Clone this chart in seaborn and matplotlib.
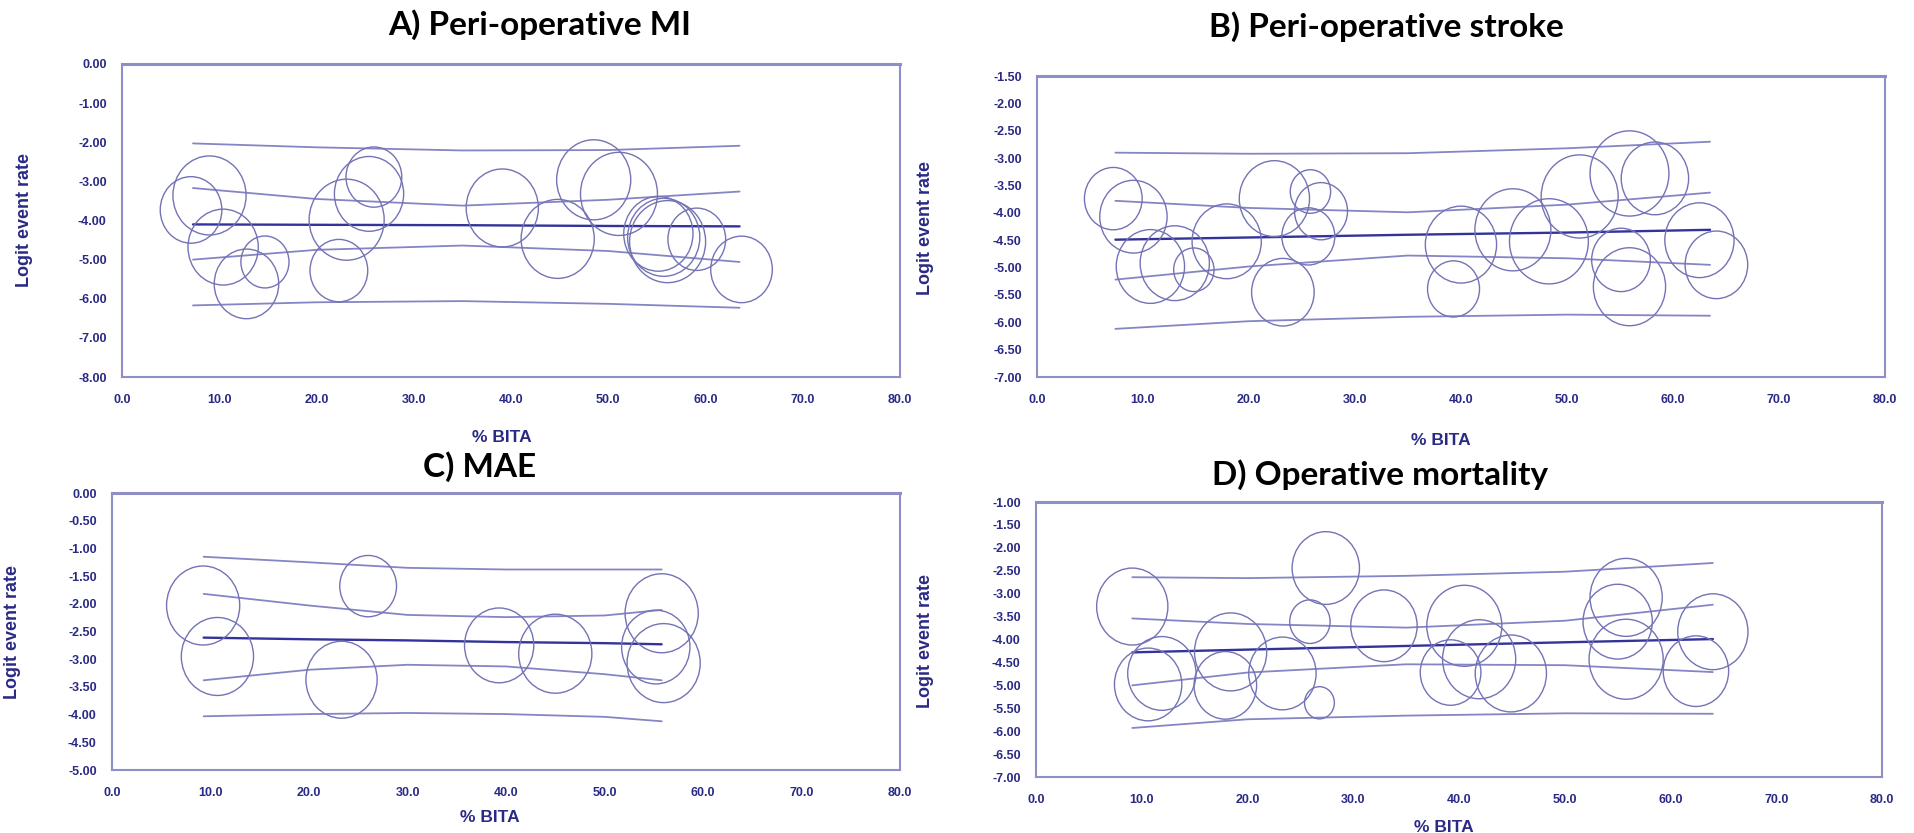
import matplotlib
matplotlib.use("Agg")
import matplotlib.pyplot as plt
from matplotlib.path import Path
from matplotlib.transforms import Affine2D
import seaborn as sns
import numpy as np

# ---- A) Peri-operative MI ----
a_x = [7.1, 9.0, 10.4, 12.8, 14.7, 22.3, 23.1, 25.4, 25.9, 39.1, 44.8, 48.5,
       51.1, 55.15, 55.7, 56.1, 59.1, 63.7]
a_y = [-3.73, -3.36, -4.68, -5.62, -5.06, -5.28, -3.98, -3.32, -2.89, -3.68,
       -4.47, -2.96, -3.32, -4.34, -4.43, -4.54, -4.48, -5.25]
a_w = [41.0, 57.8, 53.3, 44.9, 25.0, 36.0, 60.8, 51.8, 33.6, 56.3, 57.8, 59.3,
       64.0, 51.8, 56.3, 62.4, 36.0, 41.0]
a_lx = [7.3, 20, 35, 50, 63.5]
a_fit = [-4.10, -4.11, -4.12, -4.14, -4.15]
a_ci_hi = [-3.17, -3.45, -3.62, -3.47, -3.26]
a_ci_lo = [-5.00, -4.75, -4.64, -4.78, -5.06]
a_pi_hi = [-2.03, -2.13, -2.21, -2.20, -2.09]
a_pi_lo = [-6.17, -6.09, -6.06, -6.13, -6.23]

# ---- B) Peri-operative stroke ----
b_x = [7.2, 9.1, 10.7, 13.0, 14.8, 17.9, 22.4, 25.8, 26.8, 25.6, 23.2, 40.0,
       39.3, 44.9, 48.3, 51.2, 55.9, 58.3, 55.1, 55.9, 62.5, 64.1]
b_y = [-3.74, -4.07, -4.98, -4.92, -5.04, -4.52, -3.74, -3.61, -3.97, -4.43,
       -5.45, -4.58, -5.39, -4.31, -4.52, -3.70, -3.28, -3.37, -4.86, -5.35,
       -4.50, -4.95]
b_w = [36.0, 49.0, 50.4, 51.8, 17.6, 51.8, 53.3, 17.6, 30.3, 30.3, 42.3, 54.8,
       29.2, 62.4, 67.2, 64.0, 67.2, 49.0, 37.2, 56.3, 51.8, 42.3]
b_lx = [7.4, 20, 35, 50, 63.5]
b_fit = [-4.49, -4.45, -4.40, -4.36, -4.31]
b_ci_hi = [-3.78, -3.91, -3.99, -3.85, -3.63]
b_ci_lo = [-5.22, -4.98, -4.78, -4.83, -4.95]
b_pi_hi = [-2.90, -2.92, -2.91, -2.82, -2.70]
b_pi_lo = [-6.12, -5.98, -5.90, -5.86, -5.88]

# ---- C) MAE ----
c_x = [9.25, 10.7, 26.0, 23.3, 39.3, 45.0, 55.8, 55.2, 56.0]
c_y = [-2.03, -2.95, -1.68, -3.37, -2.75, -2.90, -2.17, -2.78, -3.07]
c_w = [57.8, 56.3, 34.8, 54.8, 51.8, 57.8, 57.8, 50.4, 57.8]
c_lx = [9.3, 20, 30, 40, 50, 55.8]
c_fit = [-2.61, -2.64, -2.66, -2.69, -2.71, -2.73]
c_ci_hi = [-1.82, -2.03, -2.20, -2.24, -2.21, -2.11]
c_ci_lo = [-3.38, -3.19, -3.10, -3.13, -3.27, -3.38]
c_pi_hi = [-1.15, -1.25, -1.35, -1.38, -1.38, -1.38]
c_pi_lo = [-4.03, -3.99, -3.97, -3.99, -4.04, -4.12]

# ---- D) Operative mortality ----
d_x = [9.1, 10.6, 11.9, 18.4, 17.9, 23.3, 27.4, 25.9, 26.8, 32.9, 40.5, 39.2,
       41.9, 44.9, 55.8, 55.0, 55.8, 64.0, 62.4]
d_y = [-3.28, -4.98, -4.74, -4.27, -5.00, -4.74, -2.44, -3.61, -5.38, -3.70,
       -3.70, -4.72, -4.43, -4.74, -3.08, -3.61, -4.43, -3.83, -4.69]
d_w = [54.8, 49.0, 50.4, 56.3, 42.3, 49.0, 49.0, 17.6, 9.6, 47.6, 60.8, 39.7,
       57.8, 54.8, 56.3, 51.8, 59.3, 53.3, 46.2]
d_lx = [9.1, 20, 35, 50, 64]
d_fit = [-4.28, -4.22, -4.14, -4.06, -3.99]
d_ci_hi = [-3.54, -3.66, -3.74, -3.59, -3.24]
d_ci_lo = [-5.00, -4.72, -4.54, -4.56, -4.71]
d_pi_hi = [-2.64, -2.66, -2.61, -2.52, -2.33]
d_pi_lo = [-5.93, -5.74, -5.66, -5.61, -5.62]

x_ticks = [0, 10, 20, 30, 40, 50, 60, 70, 80]

sns.set_style("white")
plt.rcParams["font.family"] = ["Liberation Sans", "DejaVu Sans"]
plt.rcParams["axes.unicode_minus"] = False

NAVY = "#2a2a86"
SPINE = "#8e8ec8"
RING = "#7373b6"
BAND = "#8585c5"
FIT = "#33339a"

# bubbles in the original are slightly taller than wide
ring = Affine2D().scale(1.0, 1.08).transform_path(Path.unit_circle())

fig = plt.figure(figsize=(19.15, 8.33), dpi=100)

panels = [
    dict(rect=[0.0637, 0.5474, 0.4063, 0.3758], title="A) Peri-operative MI",
         tpos=(540, 25), x=a_x, y=a_y, w=a_w, lx=a_lx,
         lines=[a_pi_hi, a_ci_hi, a_ci_lo, a_pi_lo], fit=a_fit,
         ylim=(-8, 0), step=1.0, ylab=(-0.114, 0.50), xlab=(0.488, -0.169)),
    dict(rect=[0.5415, 0.5474, 0.4428, 0.3613], title="B) Peri-operative stroke",
         tpos=(1386, 27), x=b_x, y=b_y, w=b_w, lx=b_lx,
         lines=[b_pi_hi, b_ci_hi, b_ci_lo, b_pi_lo], fit=b_fit,
         ylim=(-7, -1.5), step=0.5, ylab=(-0.121, 0.495), xlab=(0.476, -0.186)),
    dict(rect=[0.0585, 0.0756, 0.4115, 0.3325], title="C) MAE",
         tpos=(480, 467), x=c_x, y=c_y, w=c_w, lx=c_lx,
         lines=[c_pi_hi, c_ci_hi, c_ci_lo, c_pi_lo], fit=c_fit,
         ylim=(-5, 0), step=0.5, ylab=(-0.115, 0.498), xlab=(0.48, -0.144)),
    dict(rect=[0.541, 0.0672, 0.4418, 0.3301], title="D) Operative mortality",
         tpos=(1380, 475), x=d_x, y=d_y, w=d_w, lx=d_lx,
         lines=[d_pi_hi, d_ci_hi, d_ci_lo, d_pi_lo], fit=d_fit,
         ylim=(-7, -1), step=0.5, ylab=(-0.121, 0.495), xlab=(0.482, -0.156)),
]

W, H = 1915, 833
k = 51.84 * 1.08  # weight -> marker area (pt^2), scaled for the taller ring

for p in panels:
    ax = fig.add_axes(p["rect"])
    for band in p["lines"]:
        sns.lineplot(x=p["lx"], y=band, ax=ax, color=BAND, linewidth=1.3)
    sns.lineplot(x=p["lx"], y=p["fit"], ax=ax, color=FIT, linewidth=1.7)
    wmin, wmax = min(p["w"]), max(p["w"])
    sns.scatterplot(x=p["x"], y=p["y"], size=p["w"], sizes=(k * wmin, k * wmax),
                    size_norm=(wmin, wmax), marker=ring, facecolor="none",
                    edgecolor=RING, linewidth=1.0, legend=False, ax=ax, zorder=3)

    lo, hi = p["ylim"]
    ax.set_xlim(0, 80)
    ax.set_ylim(lo, hi)
    ax.set_xticks(x_ticks)
    ax.set_xticklabels([f"{v:.1f}" for v in x_ticks])
    yt = np.arange(lo, hi + 0.001, p["step"])
    ax.set_yticks(yt)
    ax.set_yticklabels([f"{v:.2f}" for v in yt])
    ax.tick_params(axis="both", direction="out", length=5, width=1.2,
                   color=SPINE, labelcolor=NAVY, labelsize=9, pad=6)
    ax.tick_params(axis="x", length=3, pad=9)
    for lab in ax.get_xticklabels() + ax.get_yticklabels():
        lab.set_fontweight("bold")
    for s in ax.spines.values():
        s.set_visible(True)
        s.set_color(SPINE)
        s.set_linewidth(1.5)
    ax.spines["top"].set_linewidth(2.2)

    ax.set_ylabel("Logit event rate", color=NAVY, fontsize=13, fontweight="bold")
    ax.yaxis.set_label_coords(*p["ylab"])
    ax.set_xlabel("% BITA", color=NAVY, fontsize=12.5, fontweight="bold")
    ax.xaxis.set_label_coords(*p["xlab"])

    fig.text(p["tpos"][0] / W, 1 - p["tpos"][1] / H, p["title"],
             ha="center", va="center", fontsize=24, fontweight="bold",
             color="black", family=["Lato", "DejaVu Sans"])

fig.savefig("out.png", dpi=100, facecolor="white")
